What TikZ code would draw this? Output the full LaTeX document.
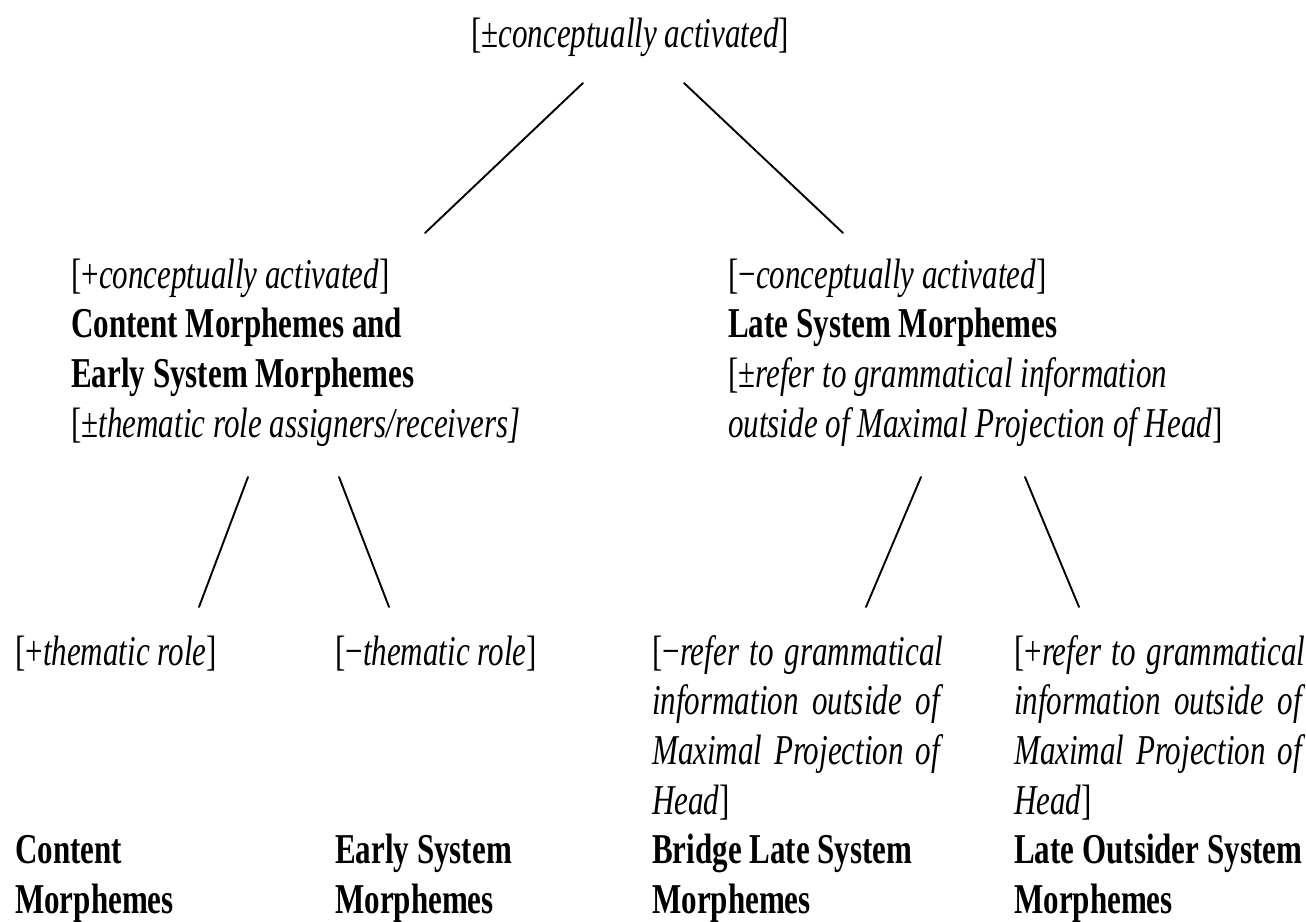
\documentclass[tikz,border=0pt]{standalone}
\usepackage{fontspec}
\setmainfont[FakeStretch=0.73]{Liberation Serif}
\newcommand\stk[1]{\vtop{\baselineskip=49.7pt\lineskiplimit=-100pt\lineskip=0pt #1}}
\newcommand\jl[1]{\hbox to 291pt{#1}}
\begin{document}
\begin{tikzpicture}[x=1pt,y=-1pt,
  lbl/.style={inner sep=0pt, anchor=base west, font=\fontsize{42.5}{49.7}\selectfont},
  branch/.style={line width=1.9pt, line cap=round}]
\useasboundingbox (0,0) rectangle (1306,921);
% texts
\node[lbl, anchor=base] (top) at (630,47) {[±\textit{conceptually activated}]};
\node[lbl] (L) at (71,288) {\stk{%
  \hbox{[+\textit{conceptually activated}]}%
  \hbox{\textbf{Content Morphemes and}}%
  \hbox{\textbf{Early System Morphemes}}%
  \hbox{[±\textit{thematic role assigners/receivers]}}}};
\node[lbl] (R) at (728,288) {\stk{%
  \hbox{[−\textit{conceptually activated}]}%
  \hbox{\textbf{Late System Morphemes}}%
  \hbox{[±\textit{refer to grammatical information}}%
  \hbox{\textit{outside of Maximal Projection of Head}]}}};
\node[lbl] (B1) at (15,665) {\stk{%
  \hbox{[+\textit{thematic role}]}\hbox{}\hbox{}\hbox{}%
  \hbox{\textbf{Content}}%
  \hbox{\textbf{Morphemes}}}};
\node[lbl] (B2) at (335,665) {\stk{%
  \hbox{[−\textit{thematic role}]}\hbox{}\hbox{}\hbox{}%
  \hbox{\textbf{Early System}}%
  \hbox{\textbf{Morphemes}}}};
\node[lbl] (B3) at (652,665) {\stk{%
  \jl{[−\textit{refer to grammatical}}%
  \jl{\textit{information outside of}}%
  \jl{\textit{Maximal Projection of}}%
  \hbox{\textit{Head}]}%
  \hbox{\textbf{Bridge Late System}}%
  \hbox{\textbf{Morphemes}}}};
\node[lbl] (B4) at (1014,665) {\stk{%
  \jl{[+\textit{refer to grammatical}}%
  \jl{\textit{information outside of}}%
  \jl{\textit{Maximal Projection of}}%
  \hbox{\textit{Head}]}%
  \hbox{\textbf{Late Outsider System}}%
  \hbox{\textbf{Morphemes}}}};
% branch end points
\coordinate (top-l) at (583,83);
\coordinate (top-r) at (684,83);
\coordinate (L-top) at (425,233);
\coordinate (R-top) at (843,233);
\coordinate (L-l) at (248,477);
\coordinate (L-r) at (339,477);
\coordinate (B1-top) at (199,607);
\coordinate (B2-top) at (389,607);
\coordinate (R-l) at (921,477);
\coordinate (R-r) at (1025,477);
\coordinate (B3-top) at (866,607);
\coordinate (B4-top) at (1079,607);
\draw[branch] (top-l) -- (L-top);
\draw[branch] (top-r) -- (R-top);
\draw[branch] (L-l) -- (B1-top);
\draw[branch] (L-r) -- (B2-top);
\draw[branch] (R-l) -- (B3-top);
\draw[branch] (R-r) -- (B4-top);
\end{tikzpicture}
\end{document}
